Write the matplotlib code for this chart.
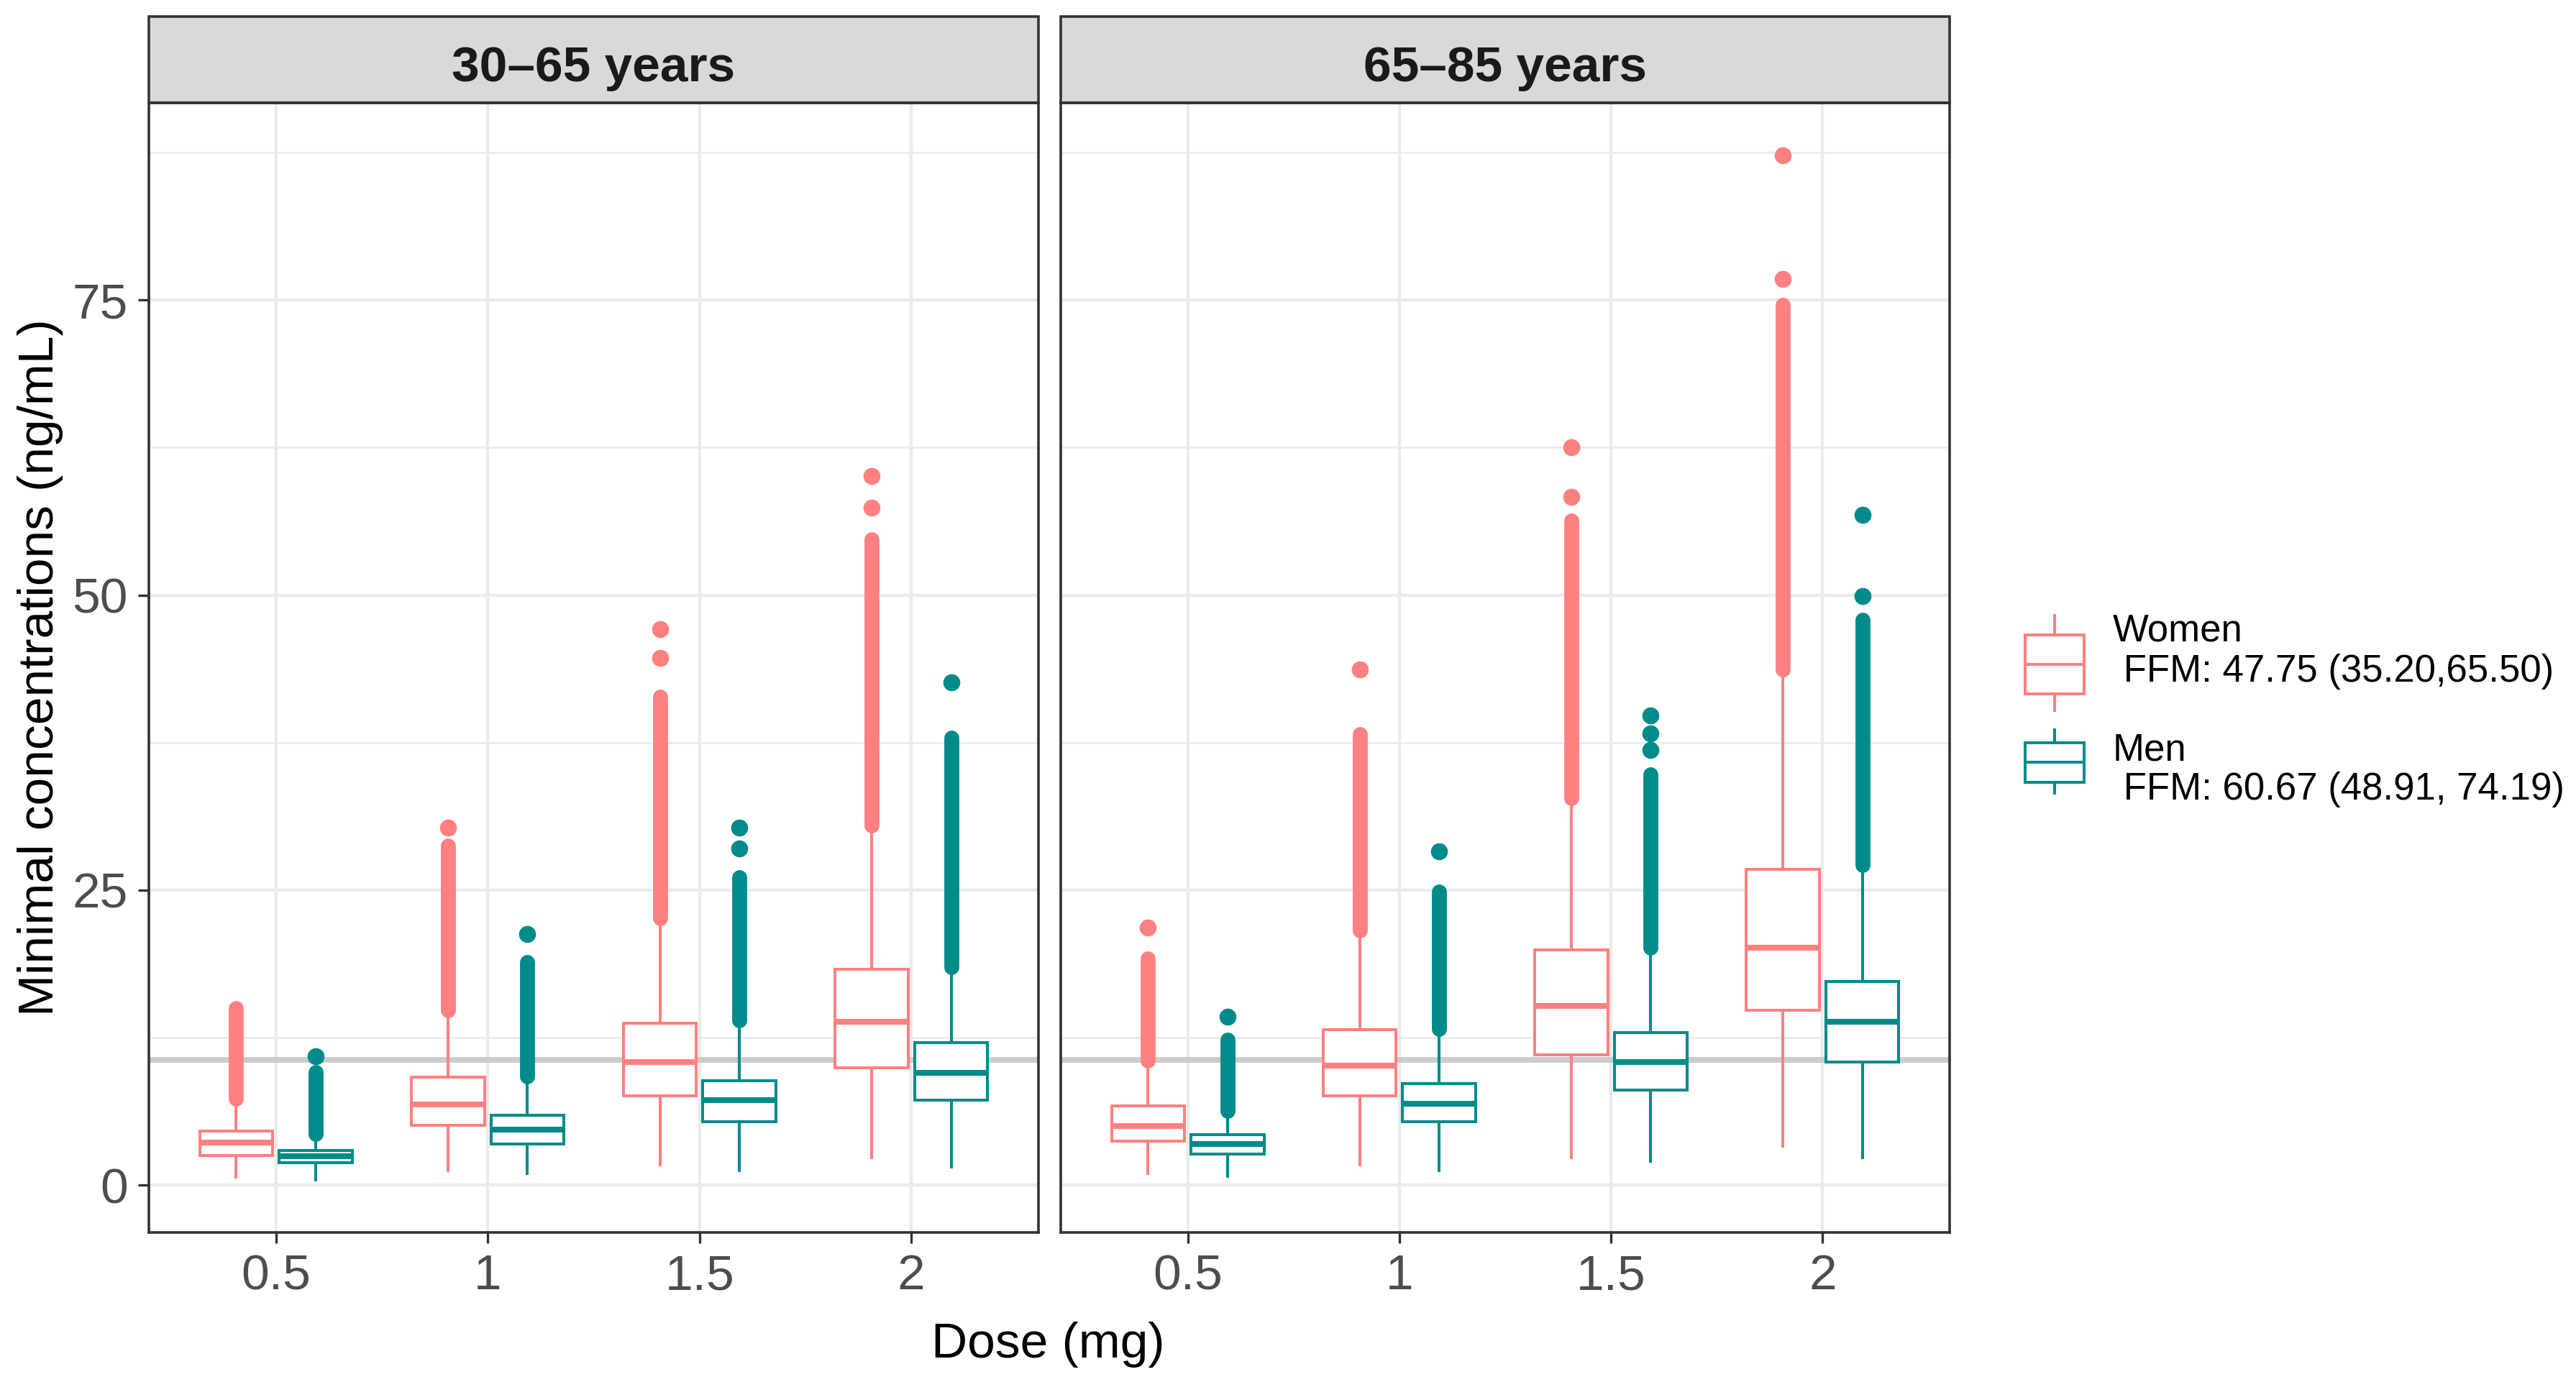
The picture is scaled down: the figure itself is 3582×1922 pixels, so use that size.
import numpy as np
import matplotlib.pyplot as plt
from matplotlib.patches import Rectangle

plt.rcParams['font.family'] = ['Liberation Sans', 'DejaVu Sans']

# dane (wiersz = grupa wiekowa, kolumna = dawka)
doses = ["0.5", "1", "1.5", "2"]
age_groups = ["30–65 years", "65–85 years"]
legend_labels = ["Women\n FFM: 47.75 (35.20,65.50)", "Men\n FFM: 60.67 (48.91, 74.19)"]
threshold = 10.63

women_whislo = [[0.68, 1.24, 1.74, 2.36], [1.00, 1.74, 2.36, 3.30]]
women_q1 = [[2.49, 5.10, 7.59, 9.95], [3.73, 7.59, 11.07, 14.80]]
women_med = [[3.61, 6.84, 10.45, 13.87], [5.04, 10.14, 15.17, 20.15]]
women_q3 = [[4.60, 9.14, 13.74, 18.28], [6.72, 13.18, 19.96, 26.74]]
women_whishi = [[7.34, 14.8, 22.6, 30.5], [10.57, 21.6, 32.8, 43.7]]
women_dense_top = [[15.0, 28.8, 41.4, 54.7], [19.2, 38.2, 56.3, 74.6]]
women_extra = [[[], [30.3], [44.7, 47.1], [57.4, 60.1]],
               [[21.8], [43.7], [58.3, 62.5], [76.8, 87.25]]]

men_whislo = [[0.44, 1.00, 1.24, 1.55], [0.75, 1.24, 2.05, 2.36]]
men_q1 = [[1.93, 3.48, 5.41, 7.21], [2.67, 5.41, 8.08, 10.45]]
men_med = [[2.45, 4.73, 7.21, 9.51], [3.48, 6.90, 10.45, 13.87]]
men_q3 = [[2.93, 5.91, 8.83, 12.06], [4.29, 8.58, 12.94, 17.29]]
men_whishi = [[4.35, 9.2, 14.0, 18.5], [6.28, 13.25, 20.1, 27.1]]
men_dense_top = [[9.6, 18.9, 26.1, 37.9], [12.3, 24.9, 34.8, 47.9]]
men_extra = [[[10.9], [21.3], [28.5, 30.3], [42.6]],
             [[14.3], [28.3], [36.9, 38.3, 39.8], [49.9, 56.8]]]

women_color = "#FF8080"
men_color = "#008B8B"

W, H = 3582, 1922
fig = plt.figure(figsize=(W / 200, H / 200), dpi=200)

panel_x = [(207, 1444), (1475, 2711)]
top, bottom, strip_top = 143, 1714, 23

series = [
    (women_color, -0.1875, women_whislo, women_q1, women_med, women_q3, women_whishi, women_dense_top, women_extra),
    (men_color, 0.1875, men_whislo, men_q1, men_med, men_q3, men_whishi, men_dense_top, men_extra),
]

x = np.arange(1, len(doses) + 1)
for g, (x0, x1) in enumerate(panel_x):
    ax = fig.add_axes([x0 / W, 1 - bottom / H, (x1 - x0) / W, (bottom - top) / H])
    ax.axhline(threshold, color="#CCCCCC", lw=2.9, zorder=1.5)

    for color, off, wlo, q1, med, q3, whi, dtop, extra in series:
        stats = []
        for d in range(len(doses)):
            stats.append(dict(whislo=wlo[g][d], q1=q1[g][d], med=med[g][d], q3=q3[g][d],
                              whishi=whi[g][d], fliers=extra[g][d]))
        ax.bxp(stats, positions=x + off, widths=0.345, patch_artist=True, showcaps=False,
               manage_ticks=False,
               boxprops=dict(facecolor="white", edgecolor=color, linewidth=1.45),
               medianprops=dict(color=color, linewidth=2.9, solid_capstyle="butt"),
               whiskerprops=dict(color=color, linewidth=1.45),
               flierprops=dict(marker="o", markersize=7.5, markerfacecolor=color,
                               markeredgecolor=color))
        # gęste wartości odstające - pionowy pas nakładających się punktów
        for d in range(len(doses)):
            ax.plot([x[d] + off, x[d] + off], [whi[g][d], dtop[g][d]], color=color,
                    lw=7.5, solid_capstyle="round", zorder=2.5)

    ax.set_xlim(0.4, 4.6)
    ax.set_ylim(-4.0, 91.7)
    ax.set_xticks(x)
    ax.set_xticklabels(doses)
    ax.set_yticks([0, 25, 50, 75])
    ax.set_yticks([12.5, 37.5, 62.5, 87.5], minor=True)
    ax.grid(which="major", color="#EBEBEB", lw=1.6)
    ax.grid(which="minor", axis="y", color="#EBEBEB", lw=1.0)
    ax.set_axisbelow(True)
    ax.tick_params(which="minor", length=0)
    ax.tick_params(which="major", length=5.5, width=1.2, color="#333333",
                   labelsize=25, labelcolor="#4D4D4D", pad=5)
    for s in ax.spines.values():
        s.set_color("#333333")
        s.set_linewidth(1.3)
    if g > 0:
        ax.tick_params(axis="y", left=False, labelleft=False)

    # pasek z tytułem panelu
    h = (top - strip_top) / (bottom - top)
    ax.add_patch(Rectangle((0, 1), 1, h, transform=ax.transAxes, facecolor="#D9D9D9",
                           edgecolor="#333333", lw=1.3, clip_on=False))
    ax.text(0.5, 1 + (top - 113) / (bottom - top), age_groups[g], transform=ax.transAxes,
            ha="center", va="baseline", fontsize=25, fontweight="bold", color="#1A1A1A")

fig.text(1457 / W, 1 - 1870 / H, "Dose (mg)", ha="center", va="center", fontsize=25)
fig.text(56 / W, 1 - 928 / H, "Minimal concentrations (ng/mL)", ha="center", va="center",
         rotation=90, fontsize=25)

# legenda rysowana ręcznie (klucze w stylu ggplot)
lg = fig.add_axes([0, 0, 1, 1])
lg.set_xlim(0, W)
lg.set_ylim(H, 0)
lg.axis("off")
keys = [(women_color, 856, 883, 924, 965, 988, [891, 948]),
        (men_color, 1015, 1033, 1060, 1088, 1103, [1058, 1112])]
for (color, wtop, btop, bmed, bbot, wbot, baselines), label in zip(keys, legend_labels):
    lg.plot([2857, 2857], [wtop, wbot], color=color, lw=1.45)
    lg.add_patch(Rectangle((2816, btop), 82, bbot - btop, facecolor="white",
                           edgecolor=color, lw=1.45, zorder=3))
    lg.plot([2816, 2898], [bmed, bmed], color=color, lw=1.45, zorder=4)
    for line, yb in zip(label.split("\n"), baselines):
        lg.text(2938, yb, line, fontsize=19, va="baseline", ha="left")

plt.savefig("out.png", dpi=200)
plt.close()
